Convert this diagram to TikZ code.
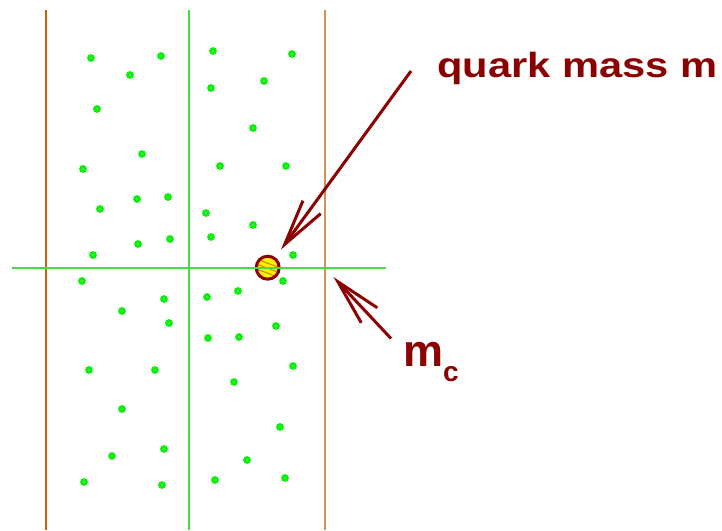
\documentclass[tikz,border=0pt]{standalone}
\usepackage{fontspec}
\setmainfont{Liberation Sans}
\newfontfamily\widefont[FakeStretch=1.19]{Liberation Sans}
\usetikzlibrary{arrows.meta}

\definecolor{darkred}{RGB}{139,0,0}
\definecolor{dotgreen}{RGB}{10,240,10}
\definecolor{linegreen}{RGB}{70,220,70}
\definecolor{rimorange}{RGB}{200,100,0}
\definecolor{rimtan}{RGB}{212,145,85}
\definecolor{stripeorange}{RGB}{215,130,0}

\begin{document}
\begin{tikzpicture}[x=1pt, y=-1pt,
    pointer/.style={darkred, line width=3pt, -{Straight Barb[length=46pt, width=22pt]}},
    labeltext/.style={darkred, inner sep=0pt, anchor=base west, font=\bfseries}]

\useasboundingbox (0,0) rectangle (722,530);

% -----------------------------
% Strip boundaries
% -----------------------------
\draw[rimorange, line width=1.3pt] (46,9.5) -- (46,530);   % left edge
\draw[linegreen, line width=1.3pt] (189,9.5) -- (189,530); % middle
\draw[rimtan, line width=1.3pt] (325,9.5) -- (325,530);    % right edge

% -----------------------------
% Green points
% -----------------------------
\foreach \px/\py in {91/58, 161/56, 130/75, 213/51, 292/54, 211/88, 264/81,
    97/109, 253/128, 142/154, 83/169, 220/166, 286/166, 100/209, 137/199,
    168/197, 206/213, 253/225, 93/255, 138/244, 170/239, 211/237, 293/255,
    82/281, 164/299, 122/311, 169/323, 207/297, 238/291, 283/281, 276/326,
    208/338, 239/337, 89/370, 155/370, 293/366, 234/382, 122/409, 280/427,
    112/456, 164/449, 247/460, 84/482, 162/485, 215/480, 285/478} {
    \fill[dotgreen] (\px,\py) circle (3.9pt);
    \fill[white] (\px,\py) circle (0.6pt);
}

% -----------------------------
% Quark and critical point
% -----------------------------
\node[circle, draw=darkred, line width=3pt, fill=yellow, minimum size=23pt,
    inner sep=0pt,
    path picture={
        \foreach \d in {-5,0,5}
            \draw[stripeorange, line width=1pt]
                ([shift={(-12,\d-4)}]path picture bounding box.center) -- ++(24,9);
    }] (quark) at (267.7,267.7) {};
\coordinate (crit) at (325,268);

\draw[linegreen, line width=1.3pt] (12,268) -- (386,268); % horizontal axis

% -----------------------------
% Labels and arrows
% -----------------------------
\node[labeltext] (qmass) at (437,77.7) {\widefont\bfseries\fontsize{35}{35}\selectfont quark mass m};
\node[labeltext] (mclabel) at (403,366.7)
    {{\fontsize{45}{45}\selectfont m}\raisebox{-15pt}{\fontsize{28}{28}\selectfont c}};

\coordinate (qtail) at (411,71);
\coordinate (mctail) at (391,338.5);
\draw[pointer, shorten >=9.5pt] (qtail) -- (quark);
\draw[pointer, shorten >=12.4pt] (mctail) -- (crit);

\end{tikzpicture}
\end{document}
